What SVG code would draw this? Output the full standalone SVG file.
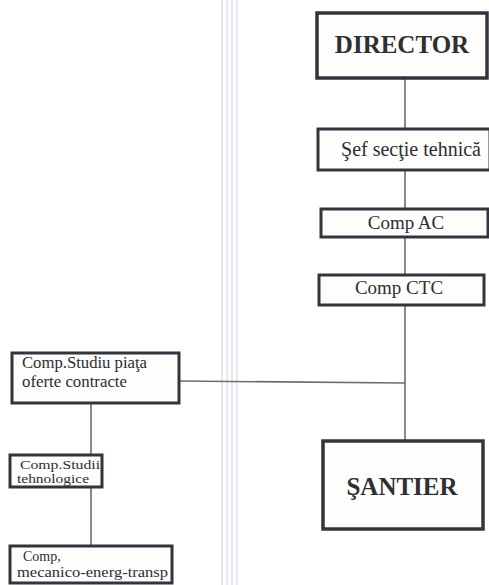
<svg xmlns="http://www.w3.org/2000/svg" width="489" height="585" viewBox="0 0 489 585">
<style>
.box{fill:#fdfdfb;stroke:#34343f;stroke-width:3}
.big{fill:#fdfdfb;stroke:#34343f;stroke-width:3.5}
.lbl{font-family:"Liberation Serif","Times New Roman",serif;fill:#2e2e33}
.bold{font-weight:bold}
.conn{stroke:#6c6c70;stroke-width:1.6;fill:none}
.sep{stroke:#dcdce8;stroke-width:1.4}
</style>
<rect width="489" height="585" fill="#ffffff"/>
<g id="separator">
<line class="sep" x1="222" y1="0" x2="222" y2="585"/>
<line class="sep" x1="227" y1="0" x2="227" y2="585"/>
<line class="sep" x1="232" y1="0" x2="232" y2="585"/>
<line class="sep" x1="237" y1="0" x2="237" y2="585"/>
</g>
<g id="connectors">
<line class="conn" x1="405" y1="78" x2="405" y2="442"/>
<line class="conn" x1="179" y1="381" x2="405" y2="383"/>
<line class="conn" x1="91" y1="403" x2="91" y2="455"/>
<line class="conn" x1="91" y1="487" x2="91" y2="546"/>
</g>
<g id="director">
<rect class="big" x="317" y="13" width="170" height="65"/>
<text class="lbl bold" x="402" y="53" font-size="25" text-anchor="middle">DIRECTOR</text>
</g>
<g id="sef">
<rect class="box" x="318" y="129" width="172" height="41"/>
<text class="lbl" x="411" y="156" font-size="20" text-anchor="middle">Şef secţie tehnică</text>
</g>
<g id="compac">
<rect class="box" x="321" y="209" width="167" height="28"/>
<text class="lbl" x="406" y="229" font-size="19" text-anchor="middle">Comp AC</text>
</g>
<g id="compctc">
<rect class="box" x="319" y="275" width="165" height="30"/>
<text class="lbl" x="399" y="294" font-size="19" text-anchor="middle">Comp CTC</text>
</g>
<g id="santier">
<rect class="big" x="323" y="441" width="160" height="88"/>
<text class="lbl bold" x="402" y="495" font-size="25" text-anchor="middle">ŞANTIER</text>
</g>
<g id="studiu-piata">
<rect class="box" x="12" y="353" width="167" height="50"/>
<text class="lbl" x="22" y="368" font-size="16" textLength="125" lengthAdjust="spacingAndGlyphs">Comp.Studiu piaţa</text>
<text class="lbl" x="22" y="387" font-size="16" textLength="105" lengthAdjust="spacingAndGlyphs">oferte contracte</text>
</g>
<g id="studii-tehnologice">
<rect class="box" x="10" y="455" width="92" height="32"/>
<text class="lbl" x="20" y="469" font-size="12" textLength="80" lengthAdjust="spacingAndGlyphs">Comp.Studii</text>
<text class="lbl" x="17" y="483" font-size="12" textLength="72" lengthAdjust="spacingAndGlyphs">tehnologice</text>
</g>
<g id="mecanico">
<rect class="box" x="10" y="546" width="162" height="37"/>
<text class="lbl" x="23" y="561" font-size="14">Comp,</text>
<text class="lbl" x="17" y="577" font-size="15" textLength="151" lengthAdjust="spacingAndGlyphs">mecanico-energ-transp</text>
</g>
</svg>
